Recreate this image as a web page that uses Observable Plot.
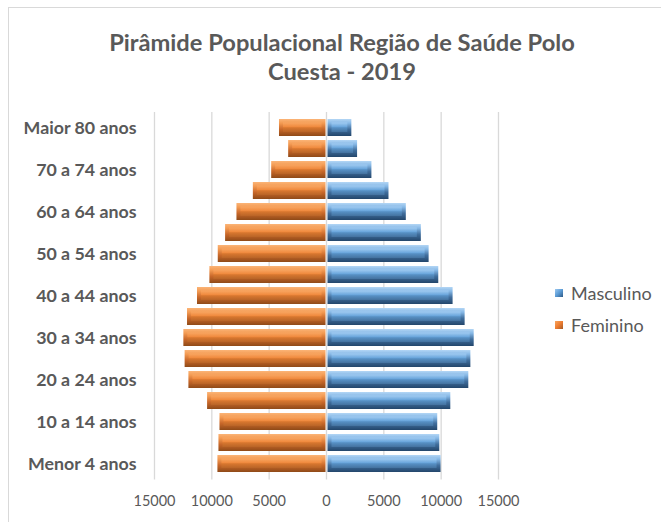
<!DOCTYPE html>
<html>
<head>
<meta charset="utf-8">
<script src="https://cdn.jsdelivr.net/npm/d3@7"></script>
<script src="https://cdn.jsdelivr.net/npm/@observablehq/plot@0.6"></script>
<style>
  html, body { margin: 0; padding: 0; background: #fff; }
  #wrap { position: relative; width: 661px; height: 522px; overflow: hidden; font-family: Lato, "Open Sans", sans-serif; color: #595959; }
  #frame { position: absolute; left: 8px; top: 7px; width: 720px; height: 600px; border: 1px solid #d9d9d9; box-sizing: border-box; }
  #title { position: absolute; left: 0; top: 28px; width: 684px; text-align: center; font-weight: bold; font-size: 23.7px; line-height: 29px; color: #595959; }
  #chart { position: absolute; left: 0; top: 0; }
  .leg { position: absolute; left: 555px; font-size: 18px; line-height: 20px; color: #595959; display: flex; align-items: center; }
  .sw { width: 8px; height: 8px; margin-right: 8px; }
</style>
</head>
<body>
<div id="wrap">
  <div id="frame"></div>
  <div id="chart"></div>
  <div id="title">Pirâmide Populacional Região de Saúde Polo<br>Cuesta - 2019</div>
  <div class="leg" style="top:283px"><div class="sw" style="background:linear-gradient(135deg,#9cc8f0 0%,#5b9bd5 50%,#2e5a86 100%)"></div>Masculino</div>
  <div class="leg" style="top:315px"><div class="sw" style="background:linear-gradient(135deg,#f8a560 0%,#ed7d31 50%,#a65a24 100%)"></div>Feminino</div>
</div>
<script>
const ages = ["Menor 4 anos","5 a 9 anos","10 a 14 anos","15 a 19 anos","20 a 24 anos","25 a 29 anos","30 a 34 anos","35 a 39 anos","40 a 44 anos","45 a 49 anos","50 a 54 anos","55 a 59 anos","60 a 64 anos","65 a 69 anos","70 a 74 anos","75 a 79 anos","Maior 80 anos"];
const masculino = [9990, 9880, 9700, 10840, 12410, 12590, 12880, 12090, 11040, 9790, 8950, 8270, 6960, 5450, 3960, 2710, 2210];
const feminino = [9470, 9380, 9290, 10370, 12000, 12330, 12440, 12120, 11250, 10170, 9440, 8800, 7810, 6380, 4780, 3300, 4100];
const yLabels = ["Menor 4 anos","10 a 14 anos","20 a 24 anos","30 a 34 anos","40 a 44 anos","50 a 54 anos","60 a 64 anos","70 a 74 anos","Maior 80 anos"];
const xTicks = [-15000, -10000, -5000, 0, 5000, 10000, 15000];

const rows = ages.map((a, i) => ({age: a, m: masculino[i], f: feminino[i]}));

const plot = Plot.plot({
  width: 661,
  height: 522,
  marginTop: 112,
  marginBottom: 42.5,
  marginLeft: 154,
  marginRight: 163,
  style: {fontFamily: "Lato, 'Open Sans', sans-serif", background: "transparent", overflow: "visible"},
  x: {domain: [-15000, 15000]},
  y: {domain: ages.slice().reverse(), paddingInner: 0.2, paddingOuter: 0.1},
  marks: [
    Plot.gridX(xTicks, {stroke: "#d9d9d9", strokeOpacity: 1, strokeWidth: 1.3}),
    Plot.axisX(xTicks, {tickSize: 0, tickPadding: 15.5, tickFormat: d => String(Math.abs(d)), fontSize: 14.5, fill: "#595959", label: null}),
    Plot.axisY(yLabels, {tickSize: 0, tickPadding: 18, fontSize: 17.8, fontWeight: "bold", fill: "#595959", label: null}),
    // feminino outer (bevel frame)
    Plot.barX(rows, {y: "age", x1: 0, x2: d => -d.f, insetRight: 0.5, fill: "url(#gF)"}),
    Plot.barX(rows, {y: "age", x1: 0, x2: d => -d.f, insetRight: 4.5, insetLeft: 4, insetTop: 3.5, insetBottom: 4, fill: "url(#gFi)"}),
    // masculino outer
    Plot.barX(rows, {y: "age", x1: 0, x2: d => d.m, insetLeft: 1.5, fill: "url(#gM)"}),
    Plot.barX(rows, {y: "age", x1: 0, x2: d => d.m, insetLeft: 5.5, insetRight: 4, insetTop: 3.5, insetBottom: 4, fill: "url(#gMi)"})
  ]
});

const ns = "http://www.w3.org/2000/svg";
const defs = document.createElementNS(ns, "defs");
function grad(id, stops) {
  const g = document.createElementNS(ns, "linearGradient");
  g.setAttribute("id", id);
  g.setAttribute("x1", "0"); g.setAttribute("y1", "0");
  g.setAttribute("x2", "0"); g.setAttribute("y2", "1");
  for (const [o, c] of stops) {
    const s = document.createElementNS(ns, "stop");
    s.setAttribute("offset", o);
    s.setAttribute("stop-color", c);
    g.appendChild(s);
  }
  defs.appendChild(g);
}
grad("gF", [[0, "#fbb477"], [0.25, "#f39a52"], [0.6, "#c9682a"], [1, "#8f4a18"]]);
grad("gFi", [[0, "#f9a763"], [0.45, "#f08a3e"], [0.55, "#d8772f"], [1, "#b86427"]]);
grad("gM", [[0, "#b3d6f5"], [0.25, "#86b8e6"], [0.6, "#416f9e"], [1, "#23466b"]]);
grad("gMi", [[0, "#a2ccf2"], [0.45, "#6aa6dc"], [0.55, "#5790c4"], [1, "#44729f"]]);
plot.insertBefore(defs, plot.firstChild);

document.getElementById("chart").appendChild(plot);
</script>
</body>
</html>
